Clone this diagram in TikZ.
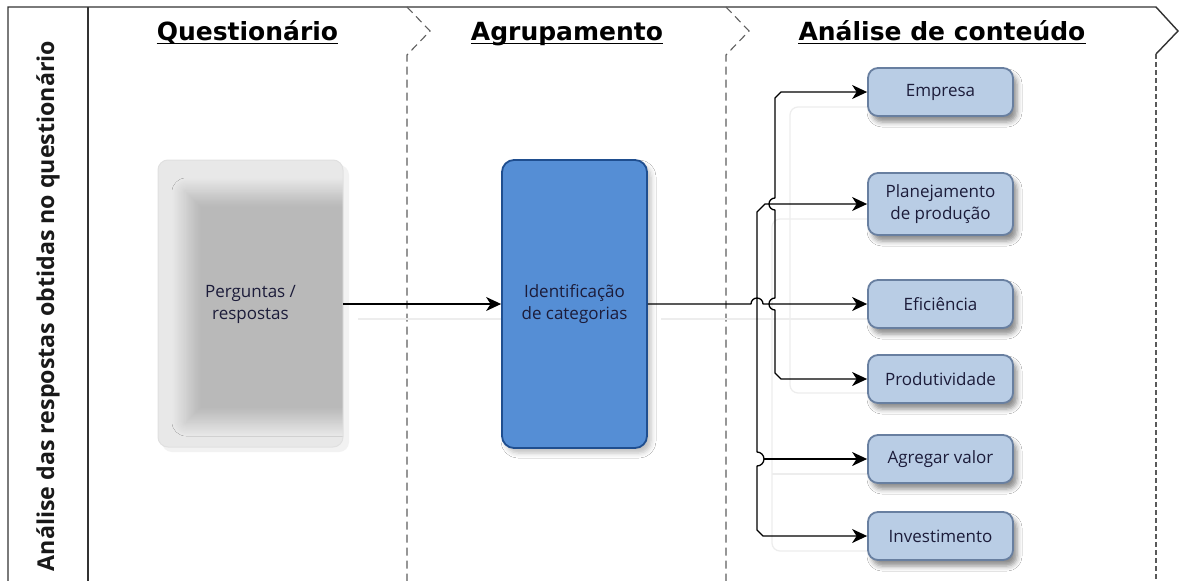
\documentclass[tikz,border=0pt]{standalone}
\usepackage{fontspec}
\setmainfont{Open Sans}
\newfontfamily\titlefont{DejaVu Sans}
\usetikzlibrary{arrows.meta,shadows.blur}

\definecolor{lanegray}{HTML}{5F5F5F}
\definecolor{catfill}{HTML}{B9CDE5}
\definecolor{catdraw}{HTML}{687FA0}
\definecolor{idfill}{HTML}{558ED5}
\definecolor{iddraw}{HTML}{1F4E8F}
\definecolor{txt}{HTML}{1C1C3A}
\definecolor{qouter}{HTML}{E8E8E8}

\begin{document}
\begin{tikzpicture}[x=1pt,y=-1pt,
  >={Stealth[length=15pt,width=14pt,inset=4.5pt]},
  frame/.style={line width=1.4pt, draw=black!80},
  lane/.style={line width=1.1pt, draw=lanegray, dash pattern=on 8pt off 5pt},
  conn/.style={line width=1.3pt, draw=black, line join=round},
  ghost/.style={line width=1.2pt, draw=black!7, rounded corners=8pt},
  boxtext/.style={text=txt, font=\fontsize{17}{22}\selectfont, align=center},
  category/.style={boxtext, draw=catdraw, fill=catfill, line width=1.8pt,
    rounded corners=10pt, minimum width=145pt, minimum height=48pt, inner sep=0pt,
    blur shadow={shadow xshift=4pt, shadow yshift=-6pt, shadow blur radius=5pt, shadow opacity=45}},
  lanetitle/.style={font=\titlefont\bfseries\fontsize{25}{28}\selectfont, anchor=base, inner sep=0pt}
]
\useasboundingbox (0,0) rectangle (1179,581);
\fill[white] (0,0) rectangle (1179,581);

% swimlane frame
\draw[frame] (8,581) -- (8,7) -- (1156,7) -- (1178,31) -- (1156,54);
\draw[line width=1.2pt, draw=black!65, dash pattern=on 5pt off 3pt] (1156,54) -- (1156,581);
\draw[frame] (88,7) -- (88,581);
\draw[lane] (407,7) -- (430,31) -- (407,55) -- (407,581);
\draw[lane] (726,7) -- (749,31) -- (726,55) -- (726,581);

% side label
\node[rotate=90, font=\bfseries\fontsize{23.2}{26}\selectfont, text=black!90] (side) at (48,306)
  {Análise das respostas obtidas no questionário};

% lane titles
\node[lanetitle] (t1) at (247.5,40) {Questionário};
\node[lanetitle] (t2) at (567,40) {Agrupamento};
\node[lanetitle] (t3) at (942,40) {Análise de conteúdo};
\foreach \t in {t1,t2,t3}
  \draw[line width=1.8pt] ([yshift=-3.5pt]\t.base west) -- ([yshift=-3.5pt]\t.base east);

% faint connector shadows
\draw[ghost] (358,319) -- (517,319);
\draw[ghost] (661,319) -- (883,319);
\draw[ghost] (883,107) -- (790,107) -- (790,393) -- (883,393);
\draw[ghost] (883,219) -- (772,219) -- (772,551) -- (883,551);
\draw[ghost] (772,474) -- (883,474);

% questionnaire block: light frame with a soft grey core
\fill[black!5, rounded corners=10pt] (162,165) rectangle (349,452);
\begin{scope}
  \path[clip, rounded corners=10pt] (158,160) rectangle (343,447);
  \fill[qouter] (158,160) rectangle (343,447);
  \path[blur shadow={shadow xshift=0pt, shadow yshift=0pt, shadow blur radius=14pt,
      shadow blur steps=16, shadow opacity=20}]
    (186,192) rectangle (370,422);
\end{scope}
\draw[black!12, rounded corners=10pt, line width=1pt] (158,160) rectangle (343,447);
\node[boxtext, minimum width=185pt, minimum height=287pt, inner sep=0pt] (q) at (250.5,304)
  {Perguntas /\\respostas};

% grouping block
\node[boxtext, draw=iddraw, fill=idfill, line width=1.8pt, rounded corners=12pt,
  minimum width=145pt, minimum height=288pt, inner sep=0pt,
  blur shadow={shadow xshift=4pt, shadow yshift=-5pt, shadow blur radius=5pt, shadow opacity=25}]
  (idc) at (574.5,304) {Identificação\\de categorias};

% categories
\node[category] (emp)  at (940.5,92)  {Empresa};
\node[category, minimum height=62pt] (pla) at (940.5,204) {Planejamento\\de produção};
\node[category] (efi)  at (940.5,304) {Eficiência};
\node[category] (prod) at (940.5,379) {Produtividade};
\node[category] (agr)  at (940.5,459) {Agregar valor};
\node[category] (inv)  at (940.5,536) {Investimento};

% connectors
\draw[conn,->] (q.east) -- (idc.west);
\draw[conn,->] (idc.east) -- (751,304) arc[start angle=180, end angle=0, radius=6pt] -- (efi.west);
\draw[conn,<->] (emp.west) -- (781,92) -- (775,98) -- (775,198)
  arc[start angle=90, end angle=270, radius=6pt] -- (775,298)
  arc[start angle=90, end angle=270, radius=6pt] -- (775,373) -- (781,379) -- (prod.west);
\draw[conn,<->] (pla.west) -- (765,204) -- (757,212) -- (757,452)
  arc[start angle=90, end angle=-90, radius=7pt] -- (757,530) -- (763,536) -- (inv.west);
\draw[conn,->] (764,459) -- (agr.west);
\end{tikzpicture}
\end{document}
